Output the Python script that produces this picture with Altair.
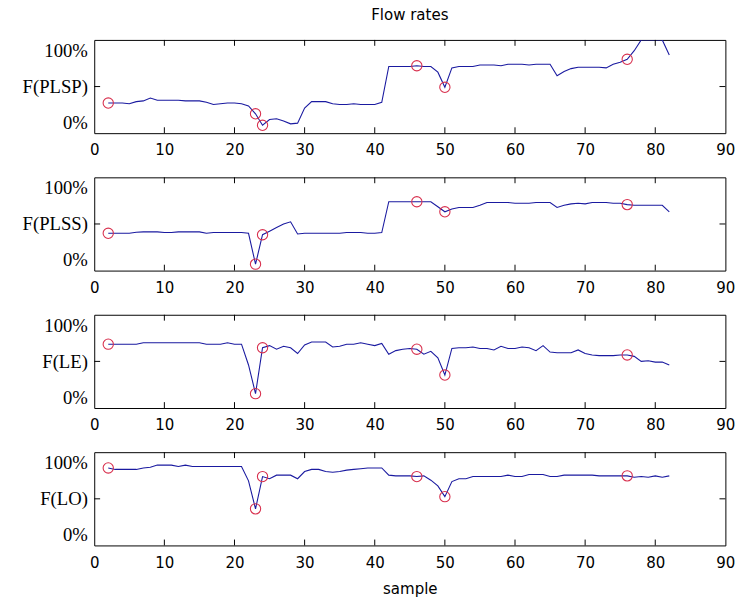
import altair as alt
import pandas as pd

# ---------------- data ----------------
samples = list(range(2, 83))

f_plsp = [0.27, 0.27, 0.27, 0.26, 0.29, 0.30, 0.34, 0.31, 0.31, 0.31,
          0.31, 0.30, 0.30, 0.30, 0.28, 0.25, 0.26, 0.27, 0.27, 0.26,
          0.23, 0.12, -0.04, 0.04, 0.05, 0.02, -0.02, -0.01, 0.20, 0.29,
          0.29, 0.29, 0.26, 0.25, 0.25, 0.26, 0.25, 0.25, 0.25, 0.28,
          0.78, 0.78, 0.78, 0.78, 0.79, 0.78, 0.78, 0.70, 0.49, 0.76,
          0.78, 0.78, 0.78, 0.80, 0.80, 0.80, 0.79, 0.81, 0.81, 0.81,
          0.80, 0.81, 0.81, 0.81, 0.65, 0.71, 0.75, 0.77, 0.77, 0.77,
          0.77, 0.76, 0.81, 0.84, 0.88, 1.00, 1.15, 1.15, 1.15, 1.15,
          0.94]

f_plss = [0.37, 0.37, 0.37, 0.37, 0.385, 0.39, 0.39, 0.39, 0.38, 0.38,
          0.39, 0.39, 0.39, 0.39, 0.37, 0.38, 0.38, 0.38, 0.38, 0.38,
          0.37, -0.06, 0.35, 0.40, 0.45, 0.50, 0.53, 0.36, 0.37, 0.37,
          0.37, 0.37, 0.37, 0.37, 0.38, 0.38, 0.38, 0.37, 0.37, 0.38,
          0.81, 0.81, 0.81, 0.81, 0.81, 0.81, 0.81, 0.74, 0.67, 0.71,
          0.73, 0.73, 0.73, 0.76, 0.80, 0.80, 0.80, 0.80, 0.79, 0.79,
          0.79, 0.80, 0.80, 0.80, 0.73, 0.76, 0.78, 0.79, 0.78, 0.80,
          0.80, 0.80, 0.79, 0.79, 0.77, 0.76, 0.76, 0.76, 0.76, 0.76,
          0.67]

f_le = [0.74, 0.74, 0.74, 0.74, 0.74, 0.76, 0.76, 0.76, 0.76, 0.76,
        0.76, 0.76, 0.76, 0.76, 0.74, 0.74, 0.74, 0.76, 0.74, 0.74,
        0.45, 0.05, 0.69, 0.72, 0.67, 0.71, 0.69, 0.61, 0.73, 0.77,
        0.77, 0.77, 0.70, 0.71, 0.74, 0.74, 0.76, 0.74, 0.72, 0.75,
        0.60, 0.65, 0.67, 0.68, 0.67, 0.60, 0.64, 0.55, 0.31, 0.68,
        0.69, 0.69, 0.70, 0.68, 0.68, 0.66, 0.71, 0.68, 0.68, 0.70,
        0.69, 0.65, 0.72, 0.63, 0.62, 0.62, 0.62, 0.66, 0.61, 0.59,
        0.58, 0.58, 0.58, 0.59, 0.59, 0.57, 0.50, 0.51, 0.49, 0.49,
        0.45]

f_lo = [0.93, 0.91, 0.91, 0.91, 0.91, 0.93, 0.94, 0.97, 0.97, 0.97,
        0.95, 0.97, 0.95, 0.95, 0.95, 0.95, 0.95, 0.95, 0.95, 0.95,
        0.75, 0.36, 0.81, 0.78, 0.83, 0.83, 0.83, 0.78, 0.88, 0.91,
        0.91, 0.88, 0.87, 0.88, 0.90, 0.91, 0.92, 0.93, 0.93, 0.93,
        0.83, 0.82, 0.82, 0.82, 0.81, 0.82, 0.76, 0.68, 0.53, 0.74,
        0.78, 0.78, 0.81, 0.81, 0.81, 0.81, 0.81, 0.83, 0.81, 0.81,
        0.84, 0.84, 0.84, 0.81, 0.81, 0.83, 0.83, 0.83, 0.83, 0.83,
        0.82, 0.82, 0.82, 0.82, 0.82, 0.80, 0.81, 0.80, 0.82, 0.80,
        0.82]

marker_samples = [2, 23, 24, 46, 50, 76]
panel_labels = ["F(PLSP)", "F(PLSS)", "F(LE)", "F(LO)"]
panel_values = [f_plsp, f_plss, f_le, f_lo]
x_ticks = list(range(0, 91, 10))
y_ticks = [0, 0.5, 1]
y_tick_text = ["0%", "", "100%"]

# ---------------- style ----------------
LINE = "#1a1aa0"
RED = "#d8304e"
SANS = "Liberation Sans Narrow, DejaVu Sans Condensed, Liberation Sans, sans-serif"
SERIF = "Liberation Serif, Times New Roman, serif"
X_DOM = [0, 90]
Y_DOM = [-0.15, 1.15]
W, H = 643, 95
TICK_X = 0.84   # inward tick length in x data units (~6 px)
TICK_Y = 0.082  # inward tick length in y data units (~6 px)


def panel(label, values, first, last):
    df = pd.DataFrame({"sample": samples, "value": values})
    df["marked"] = df["sample"].isin(marker_samples)
    xs = alt.Scale(domain=X_DOM, nice=False, zero=False)
    ys = alt.Scale(domain=Y_DOM, nice=False, zero=False)

    label_expr = (
        f"datum.value == 1 ? '{y_tick_text[2]}' : "
        f"datum.value == 0 ? '{y_tick_text[0]}' : '{label}'"
    )
    yaxis = alt.Axis(values=y_ticks, labelExpr=label_expr, ticks=False,
                     domain=False, grid=False, labelFont=SERIF,
                     labelFontSize=19, labelColor="black", labelPadding=7,
                     minExtent=85, maxExtent=85)
    xaxis_kw = dict(values=x_ticks, ticks=False, domain=False, grid=False,
                    labelFont=SANS, labelFontSize=17, labelColor="black",
                    labelPadding=9, labelFlush=False)
    if last:
        xaxis_kw.update(titleFont=SANS, titleFontSize=17,
                        titleFontWeight="normal", titleColor="black",
                        titlePadding=11)
    xaxis = alt.Axis(**xaxis_kw)

    def xenc(field):
        if last:
            return alt.X(field, scale=xs, axis=xaxis, title="sample")
        return alt.X(field, scale=xs, axis=xaxis, title=None)

    def yenc(field):
        return alt.Y(field, scale=ys, axis=yaxis, title=None)

    base = alt.Chart(df)
    line = base.mark_line(color=LINE, strokeWidth=1.1, clip=True).encode(
        x=xenc("sample:Q"), y=yenc("value:Q"))
    pts = base.transform_filter("datum.marked").mark_point(
        shape="circle", filled=False, size=110, color=RED, strokeWidth=1.1,
        clip=True, opacity=1).encode(x=xenc("sample:Q"), y=yenc("value:Q"))

    tdf = pd.DataFrame({"sample": x_ticks[1:-1]})
    tdf["value"] = Y_DOM[1]
    tdf["value2"] = Y_DOM[1] - TICK_Y
    bdf = pd.DataFrame({"sample": x_ticks[1:-1]})
    bdf["value"] = Y_DOM[0]
    bdf["value2"] = Y_DOM[0] + TICK_Y
    top_ticks = alt.Chart(tdf).mark_rule(color="black", strokeWidth=1).encode(
        x=xenc("sample:Q"), y=yenc("value:Q"), y2="value2:Q")
    bot_ticks = alt.Chart(bdf).mark_rule(color="black", strokeWidth=1).encode(
        x=xenc("sample:Q"), y=yenc("value:Q"), y2="value2:Q")

    ldf = pd.DataFrame({"value": [0.5], "sample": [X_DOM[0]],
                        "sample2": [X_DOM[0] + TICK_X]})
    rdf = pd.DataFrame({"value": [0.5], "sample": [X_DOM[1]],
                        "sample2": [X_DOM[1] - TICK_X]})
    left_tick = alt.Chart(ldf).mark_rule(color="black", strokeWidth=1).encode(
        x=xenc("sample:Q"), x2="sample2:Q", y=yenc("value:Q"))
    right_tick = alt.Chart(rdf).mark_rule(color="black", strokeWidth=1).encode(
        x=xenc("sample:Q"), x2="sample2:Q", y=yenc("value:Q"))

    props = dict(width=W, height=H)
    if first:
        props["title"] = alt.TitleParams(
            "Flow rates", font=SANS, fontSize=17, fontWeight="normal",
            color="black", anchor="middle", offset=16)
    return alt.layer(line, pts, top_ticks, bot_ticks, left_tick,
                     right_tick).properties(**props)


charts = [panel(lbl, vals, i == 0, i == 3)
          for i, (lbl, vals) in enumerate(zip(panel_labels, panel_values))]

chart = alt.vconcat(*charts, spacing=18).properties(
    padding={"left": 10, "top": 0, "right": 10, "bottom": 2},
    background="white",
).configure_view(stroke="black", strokeWidth=1)

chart.save("out.html", embed_options={"renderer": "svg", "actions": False})
